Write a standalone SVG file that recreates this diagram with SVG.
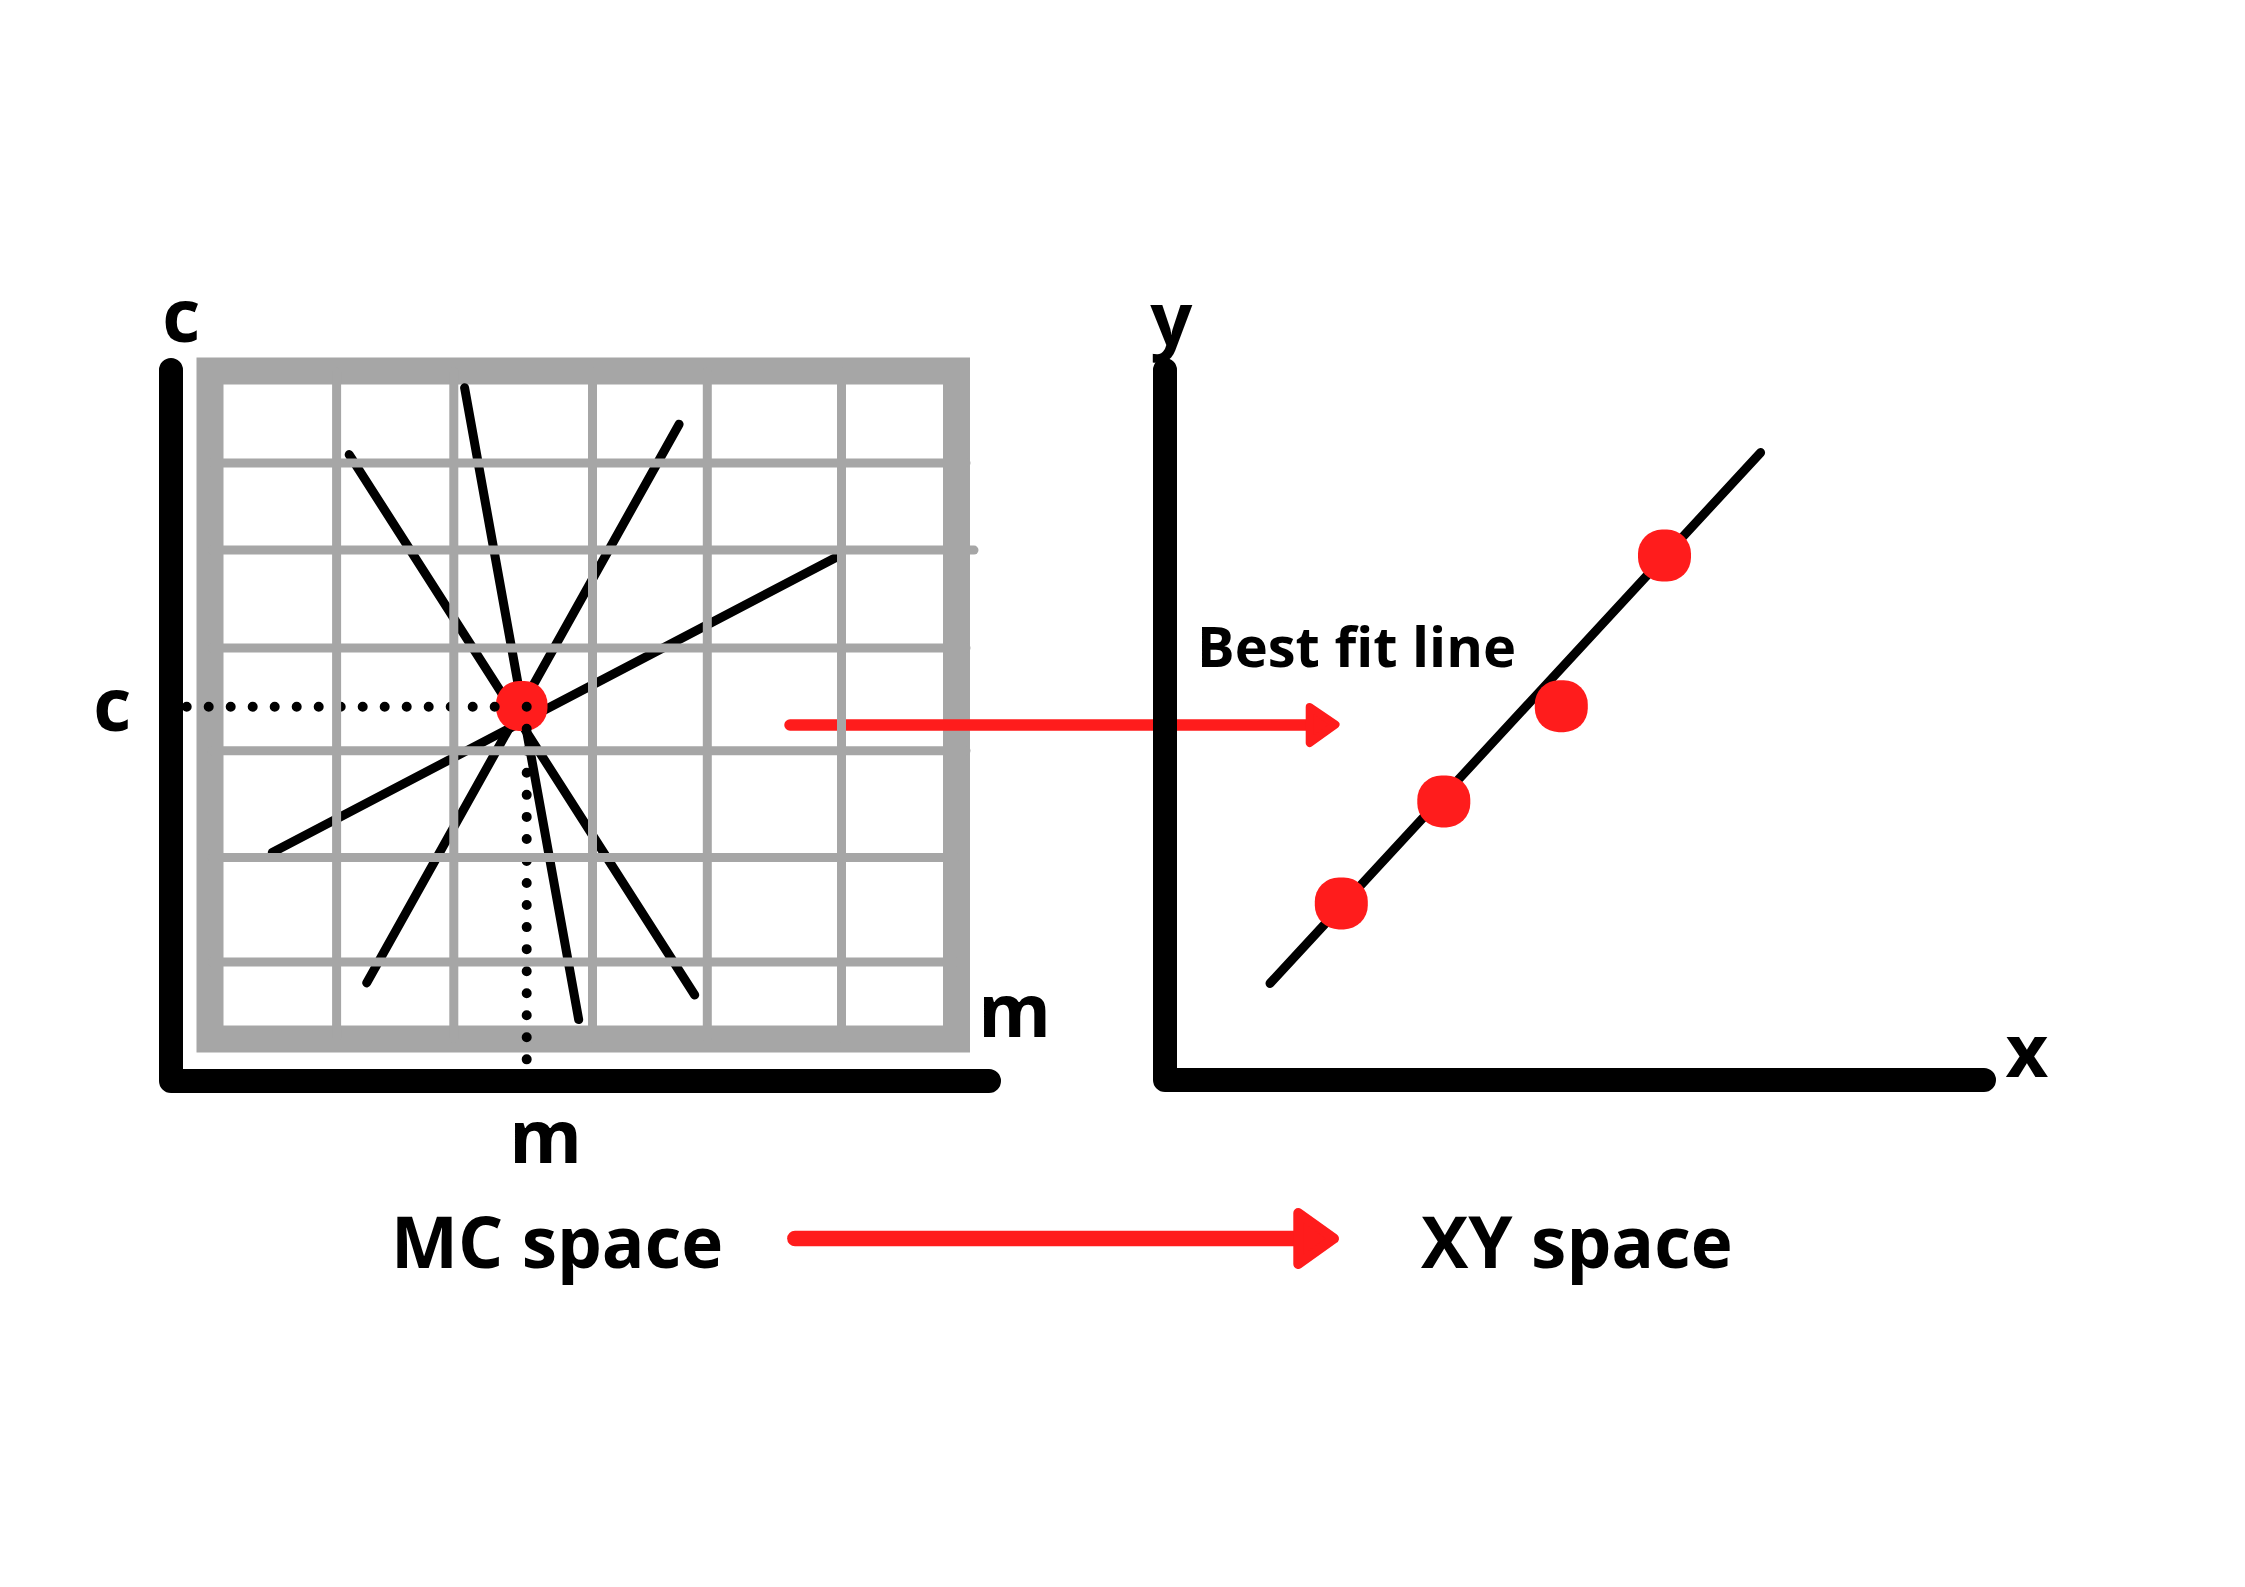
<svg xmlns="http://www.w3.org/2000/svg" width="2245" height="1587" viewBox="0 0 2245 1587">
<defs>
<style>
.lbl{font-family:"Open Sans","Noto Sans","Liberation Sans",sans-serif;font-weight:700;fill:#000}
.axis{stroke:#000;stroke-width:24;stroke-linecap:round;stroke-linejoin:round;fill:none}
.grid{stroke:#a6a6a6;stroke-width:9;stroke-linecap:round;fill:none}
.frame{stroke:#a6a6a6;stroke-width:27;fill:#fff}
.cand{stroke:#000;stroke-width:9;stroke-linecap:round;fill:none}
.dots{stroke:#000;stroke-width:10;stroke-linecap:round;fill:none}
.pt{fill:#ff1c1c}
.red{stroke:#ff1c1c;stroke-linecap:round;stroke-linejoin:round;fill:#ff1c1c}
</style>
</defs>
<rect width="2245" height="1587" fill="#fff"/>

<g id="mc-space">
  <g id="mc-axes">
    <path class="axis" d="M171,370 V1081 H989"/>
  </g>
  <rect id="mc-frame" class="frame" x="210" y="371" width="746.5" height="668"/>
  <g id="mc-lines">
    <line class="cand" x1="464.6" y1="387.7" x2="578.7" y2="1019.6"/>
    <line class="cand" x1="349.2" y1="454.6" x2="694.7" y2="995"/>
    <line class="cand" x1="679.1" y1="424.2" x2="366.7" y2="982.9"/>
    <line class="cand" x1="835.9" y1="557.4" x2="272.3" y2="852.5"/>
  </g>
  <rect id="mc-point" class="pt" x="496" y="681" width="51.5" height="50" rx="23"/>
  <g id="mc-dots">
    <path class="dots" d="M186.7,706.7 H516.7" stroke-dasharray="0 22"/>
    <path class="dots" d="M526.7,706.7 V1059.4" stroke-dasharray="0 22.04"/>
  </g>
</g>

<g id="connectors">
  <g id="arrow-best-fit">
    <line class="red" x1="790" y1="725" x2="1312" y2="725" stroke-width="11.5"/>
    <polygon class="red" stroke-width="8" points="1309.7,707 1335.5,724.5 1309.7,743"/>
  </g>
  <g id="arrow-spaces">
    <line class="red" x1="795" y1="1238.5" x2="1300" y2="1238.5" stroke-width="15.7"/>
    <polygon class="red" stroke-width="10" points="1298.3,1213 1334,1238.5 1298.3,1264"/>
  </g>
</g>

<g id="mc-grid">
  <line class="grid" x1="336.6" y1="372" x2="336.6" y2="1038"/>
  <line class="grid" x1="453.8" y1="372" x2="453.8" y2="1038"/>
  <line class="grid" x1="592.5" y1="372" x2="592.5" y2="1038"/>
  <line class="grid" x1="707.3" y1="372" x2="707.3" y2="1038"/>
  <line class="grid" x1="841.5" y1="372" x2="841.5" y2="1038"/>
  <line class="grid" x1="212" y1="462.9" x2="966" y2="462.9"/>
  <line class="grid" x1="212" y1="550.1" x2="974" y2="550.1"/>
  <line class="grid" x1="212" y1="648" x2="966" y2="648"/>
  <line class="grid" x1="212" y1="750.7" x2="966" y2="750.7"/>
  <line class="grid" x1="212" y1="857.6" x2="955" y2="857.6"/>
  <line class="grid" x1="212" y1="962" x2="955" y2="962"/>
</g>

<g id="mc-labels">
  <text class="lbl" x="181.4" y="342" font-size="74" text-anchor="middle">c</text>
  <text class="lbl" x="112.4" y="730.5" font-size="74" text-anchor="middle">c</text>
  <text class="lbl" x="545.5" y="1163" font-size="74" text-anchor="middle">m</text>
  <text class="lbl" x="1014.5" y="1036.7" font-size="74" text-anchor="middle">m</text>
</g>

<g id="xy-space">
  <path class="axis" d="M1165,370 V1080 H1984"/>
  <line id="best-fit-line" class="cand" x1="1270" y1="983.4" x2="1760.6" y2="452.6"/>
  <g id="xy-points">
    <rect class="pt" x="1638" y="529.6" width="53" height="52" rx="24"/>
    <rect class="pt" x="1534.8" y="680.2" width="53" height="52" rx="24"/>
    <rect class="pt" x="1417.3" y="775.4" width="53" height="52" rx="24"/>
    <rect class="pt" x="1314.8" y="877.4" width="53" height="52" rx="24"/>
  </g>
  <text class="lbl" x="1171.3" y="344.5" font-size="74" text-anchor="middle">y</text>
  <text class="lbl" x="2027" y="1077" font-size="74" text-anchor="middle">x</text>
  <text id="best-fit-label" class="lbl" x="1197" y="667" font-size="56">Best fit line</text>
</g>

<g id="captions">
  <text id="mc-caption" class="lbl" x="391" y="1268" font-size="71">MC space</text>
  <text id="xy-caption" class="lbl" x="1421" y="1268" font-size="71">XY space</text>
</g>
</svg>
